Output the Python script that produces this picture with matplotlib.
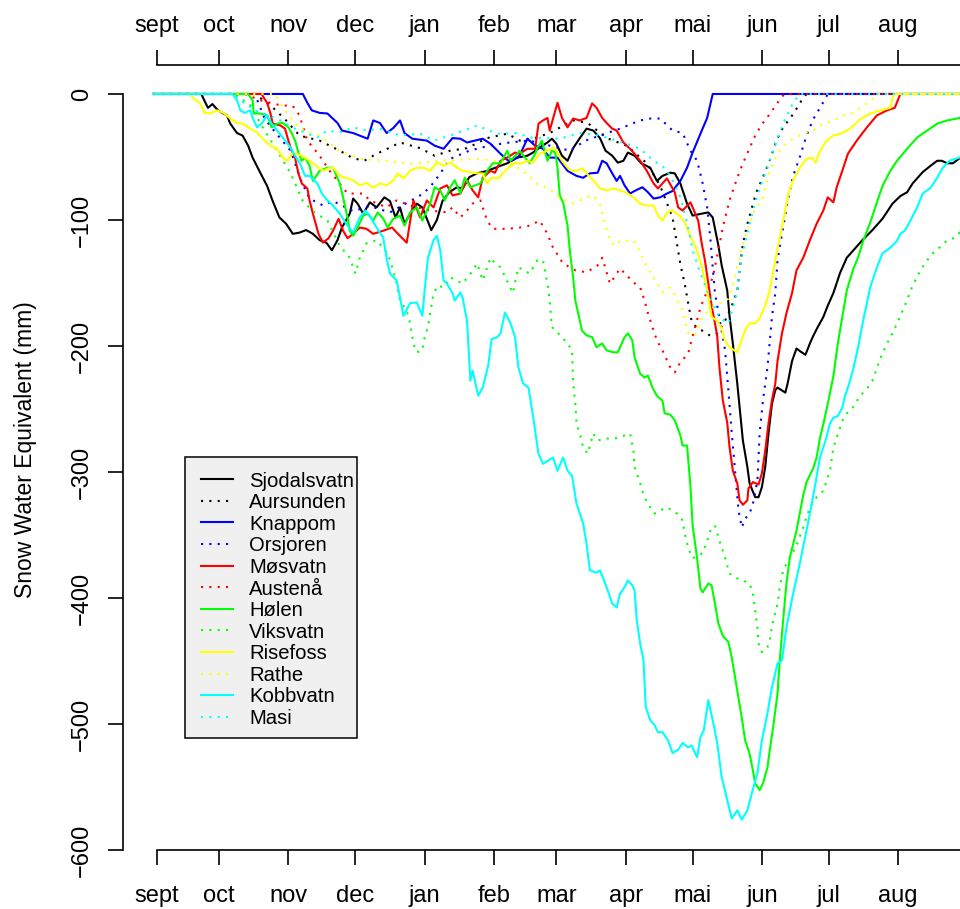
import matplotlib
matplotlib.use("Agg")
import matplotlib.pyplot as plt
from matplotlib.lines import Line2D
from matplotlib.patches import Rectangle

plt.rcParams['font.family'] = ['Liberation Sans', 'DejaVu Sans']

# ---------------- data (day since 1 Sept, SWE in mm) ----------------
SJODALSVATN = [(0.5,0),(22,0),(25,-11),(27,-8),(29.5,-13),(33.5,-17),(35,-23.5),(38,-31),(40.5,-33),(43,-41),(45,-50.5),(48,-61),(51.5,-73),(54,-85),(57,-98),(60,-103),(63,-111),(66,-110),(69,-108),(72,-111),(75,-116),(78,-118),(80.5,-124),(83,-116),(85,-106),(88.5,-95),(90,-83),(92,-87),(94.5,-95),(97.5,-86),(100.5,-90),(104,-82),(106.5,-85),(109,-98),(111,-90),(113,-103),(115.5,-95),(118.5,-87),(121,-90),(125,-108),(127.5,-100),(130,-85),(133,-78),(136.5,-74),(139,-75),(142,-66),(145.5,-63),(150,-61),(154.5,-58),(159,-55),(163.5,-50.5),(168,-49),(170.5,-46.5),(173.5,-42.5),(177,-38.5),(179,-35.5),(181,-39.5),(183.5,-49),(186,-53),(188.5,-43),(191.5,-35),(194.5,-27.5),(197.5,-29),(200.5,-35),(203,-45),(206,-49),(208.5,-54.5),(211,-53),(213,-46.5),(216,-49),(219,-55),(223,-58.5),(226,-69),(228.5,-65),(232,-62.5),(234,-63),(236.5,-71),(239.5,-87),(242,-96.5),(246,-95),(249,-94),(251,-98),(253.5,-120),(255,-136),(257.5,-156),(258.5,-176),(260,-198),(262,-230),(263.5,-257),(264.5,-275),(266.5,-296),(267.5,-309),(270,-320),(271.5,-320),(273,-312),(274.5,-296),(276,-269),(277.5,-246),(279,-235),(280,-233),(283.5,-237),(284.5,-230),(286.5,-212),(288.5,-202),(290,-204),(292.5,-207),(294.5,-198),(296,-192),(298,-185),(300.5,-177),(302.5,-168),(305,-158),(308,-142),(311,-130),(314,-124),(318,-116),(322.5,-108),(327,-99),(331.5,-87),(335,-81),(338,-78),(340.5,-71),(345,-62),(348.5,-57),(351.5,-53),(353.5,-53),(356,-55),(358.5,-55),(361.5,-51),(365,-50)]
AURSUNDEN = [(0.5,0),(46,0),(53,-9),(59.5,-20),(66,-33),(75,-37),(84,-45),(90,-51),(95,-53),(100.5,-47.5),(106.5,-42.5),(111,-38.5),(120,-43),(126.5,-49),(133.5,-45),(141,-43),(150,-35),(159,-31.5),(164.5,-37),(170.5,-35.5),(178,-31),(188.5,-21),(195,-23),(203.5,-35),(212.5,-41),(221.5,-55),(227.5,-73),(233,-98),(235,-119),(236.5,-135),(238.5,-151),(240,-166),(241.5,-180),(244,-186),(246.5,-188),(250,-192),(253,-190),(256.5,-180),(260,-166),(262,-156),(263,-140),(264.5,-119),(266.5,-103),(270.5,-78),(273.5,-66),(276.5,-53),(279.5,-37),(282.5,-26.5),(287,-16),(291.5,-3),(293,0),(365,0)]
KNAPPOM = [(0.5,0),(67.5,0),(69.5,-7),(71.5,-13),(75,-15),(78.5,-15.5),(83,-23),(85,-29),(90,-31),(96.5,-35.5),(99,-21),(102,-23),(105,-31),(108,-27),(111,-21),(113,-31),(116.5,-35.5),(123,-37),(126.5,-41),(130.5,-43.5),(134.5,-35),(138,-35.5),(141,-38.5),(144.5,-37),(148,-35.5),(151.5,-39.5),(156,-47.5),(159.5,-53),(162.5,-51.5),(164.5,-49),(168,-35.5),(171.5,-41),(175,-43.5),(178,-50.5),(181.5,-50.5),(186,-61),(190,-65),(193,-66.5),(196,-63),(199.5,-62.5),(201.5,-53),(203.5,-55),(206,-63),(208,-69),(209.5,-65),(211.5,-72.5),(214,-79),(216,-77),(219.5,-74),(222,-78),(224.5,-83),(227.5,-82),(230.5,-79),(233,-77),(236.5,-69),(239.5,-58.5),(242,-46.5),(245.5,-31.5),(248.5,-19),(251,0),(365,0)]
ORSJOREN = [(0.5,0),(46,0),(50.5,-20),(55,-30),(62,-45),(67,-70),(70.5,-83),(76.5,-88.5),(81,-85),(90,-93),(97.5,-89),(106.5,-94),(115.5,-85),(121.5,-79),(126,-70.5),(129,-63),(133.5,-51.5),(142,-45),(151,-41),(160,-38.5),(169,-37),(178,-41),(187,-45),(194,-37),(200.5,-33),(209.5,-27.5),(218.5,-21),(223,-19.5),(227.5,-19.5),(233,-29),(237.5,-31),(241,-45),(244,-53),(246.5,-71),(248.5,-90),(250,-116),(251,-138),(252,-158),(256.5,-203),(258,-235),(259.5,-269),(261,-299),(262.5,-330),(264,-344),(265.5,-337),(267.5,-333),(269,-325),(271,-307),(272,-269),(273.5,-243),(275.5,-217),(277.5,-177),(279,-158),(280,-132),(282.5,-106),(284.5,-85),(287,-65),(290,-50),(293,-33),(296,-20),(299,-11),(301,-5),(302.5,0),(365,0)]
MOSVATN = [(0.5,0),(49,0),(50,-3),(51.5,-7),(53,-15.5),(54,-23.5),(57.5,-25),(59.5,-27.5),(61,-37),(62.5,-45),(64,-50.5),(65.5,-63),(67,-71),(69.5,-75),(70.5,-84.5),(72,-95),(74.5,-111),(76.5,-118),(79,-114.5),(81,-108.5),(83.5,-99),(85.5,-108.5),(87.5,-114.5),(90,-111),(93,-106),(96,-107),(99,-111),(103.5,-108.5),(107.5,-106),(109.5,-110),(114,-118),(117,-84.5),(120,-98),(123,-84.5),(126,-90),(129,-75),(132,-72.5),(134.5,-80.5),(138,-79),(141,-68.5),(143.5,-76.5),(146,-82),(148,-66.5),(151.5,-61),(153.5,-62.5),(156,-53),(159,-50.5),(162.5,-46.5),(164.5,-47.5),(168,-43.5),(171.5,-43.5),(173,-23.5),(175,-21),(177,-19),(178,-29),(181.5,-7),(183.5,-19),(186,-26.5),(188.5,-19.5),(191.5,-21),(194.5,-19),(197,-7.5),(199,-11),(201.5,-19),(203.5,-23),(206,-27.5),(208,-29),(211,-38.5),(214,-43.5),(216,-47.5),(218.5,-53),(221.5,-61),(224.5,-71),(226.5,-75),(228.5,-71),(230.5,-67),(234,-78),(235.5,-90),(237.5,-92.5),(241,-86),(242,-90),(244.5,-100.5),(246,-118),(247.5,-132),(249,-150),(250.5,-168),(252,-182),(253,-192),(254,-217),(255.5,-243),(257.5,-261),(258.5,-280),(260,-299),(262,-309),(263,-322.5),(264.5,-326),(266.5,-322.5),(267,-313),(269,-308),(271.5,-310),(273,-301),(274.5,-283),(276,-261),(277.5,-243),(279,-230),(280,-212),(282,-190),(284,-174),(286.5,-158),(288.5,-140),(291.5,-130),(294.5,-116),(297.5,-103),(300.5,-92.5),(302.5,-82),(305,-86),(306.5,-74),(309,-61),(311.5,-47.5),(315.5,-37),(320,-26.5),(324.5,-17),(329,-13),(332.5,-11),(335,0),(365,0)]
AUSTENA = [(0.5,0),(41.5,0),(48.5,-5),(57.5,-9),(63,-9.5),(66,-17),(69.5,-37),(75,-49),(79.5,-61),(87.5,-79),(94.5,-79),(97.5,-84.5),(105,-90),(109.5,-84.5),(115.5,-88.5),(124.5,-92.5),(132,-94),(134.5,-90),(138,-98),(141,-92.5),(143.5,-87),(147,-84.5),(150,-100.5),(152.5,-107),(159,-107),(164.5,-106),(169,-104.5),(173.5,-100.5),(177,-111),(179.5,-122),(184,-134.5),(189.5,-140),(194.5,-141.5),(199.5,-136),(201.5,-130),(203,-138.5),(205,-150.5),(209.5,-138.5),(212.5,-144),(215.5,-149.5),(218.5,-153.5),(220.5,-164),(222,-174),(224,-185),(226,-195.5),(228.5,-203.5),(232,-217),(234,-221),(236.5,-213),(240,-206),(241.5,-195.5),(245.5,-169.5),(251,-145.5),(253.5,-124),(255.5,-106),(258.5,-84.5),(262,-66.5),(264.5,-55),(267,-45),(270,-33),(273,-24),(276.5,-16),(280,-7),(283,0),(365,0)]
HOLEN = [(0.5,0),(43,0),(45,-5),(45.5,-15.5),(48.5,-15.5),(51.5,-17),(53.5,-26.5),(56,-23.5),(58.5,-23),(61,-26.5),(62.5,-31),(64,-37),(65.5,-46.5),(67,-53),(68.5,-50.5),(70.5,-57),(72,-69),(75,-61),(78.5,-58.5),(81,-58.5),(84,-71),(85.5,-82),(87.5,-98),(88.5,-108.5),(90,-112.5),(92,-106),(94.5,-96.5),(96.5,-95),(99,-100.5),(101,-94),(103.5,-99),(105.5,-106),(108,-99),(111,-96.5),(113,-104.5),(115.5,-94),(118.5,-90),(121,-100.5),(123,-92.5),(124.5,-87),(126.5,-74),(129,-76.5),(131,-84.5),(133.5,-74),(135.5,-68.5),(138,-79),(140,-66.5),(142.5,-74),(147,-71),(150,-61),(152.5,-55),(156,-55),(159,-45),(160.5,-53),(163.5,-47.5),(164.5,-45),(169,-55),(171.5,-47.5),(172.5,-42.5),(174.5,-37),(177,-53),(179,-45),(180.5,-46.5),(181.5,-58.5),(182.5,-80.5),(184,-86),(186,-104.5),(187,-124),(188.5,-145.5),(189.5,-164),(190.5,-172),(192.5,-188),(194.5,-191.5),(197,-193),(199,-201),(201.5,-198),(203.5,-203.5),(206.5,-205),(208.5,-205),(211.5,-193),(213,-190),(215,-195.5),(216,-209),(218.5,-222),(220.5,-225),(222,-223.5),(224,-233),(226,-239.5),(228.5,-243.5),(229.5,-253.5),(232,-254.5),(234,-259),(236.5,-271),(237.5,-279),(239.5,-279),(241,-311),(242,-342.5),(244,-368.5),(245.5,-392.5),(246.5,-395.5),(249,-388.5),(250.5,-390),(252,-404.5),(253.5,-420),(255.5,-430),(258,-435),(259.5,-447),(261,-463),(262.5,-479),(264,-495),(265.5,-513),(267.5,-523.5),(269,-537),(270,-547),(272,-552.5),(273.5,-547),(275.5,-534.5),(276.5,-521),(278,-503),(280,-476),(281,-449.5),(282.5,-418),(284,-388.5),(285.5,-368),(288.5,-346.5),(291.5,-318.5),(293,-308),(296,-297),(297.5,-288.5),(299,-273),(300.5,-262),(302.5,-246),(305,-224),(307,-198),(309,-177),(311,-156),(314,-138.5),(316,-130),(318.5,-116),(321.5,-102),(324.5,-86),(327,-73),(330.5,-61),(333.5,-53),(338,-43.5),(342.5,-34.5),(347,-29),(351.5,-23.5),(356,-21),(361.5,-19),(365,-18)]
VIKSVATN = [(0.5,0),(37,0),(44,-9),(49,-25),(56,-45),(62,-63),(67.5,-85),(72,-93),(78.5,-100.5),(84,-120.5),(88.5,-130),(91,-142.5),(93,-130),(96,-118.5),(100.5,-116),(105.5,-126.5),(107.5,-137.5),(109.5,-150.5),(111,-164),(114,-172),(115.5,-182),(117,-198),(118.5,-205),(121,-203.5),(122,-193),(123.5,-185),(126,-158),(128,-152),(130.5,-153.5),(133.5,-145.5),(139,-150.5),(143,-141.5),(145.5,-134.5),(148,-148),(151.5,-130),(153.5,-134.5),(156,-137.5),(159.5,-150.5),(161.5,-158),(164,-137.5),(169,-142.5),(172.5,-132),(175,-132),(177,-150.5),(178,-164),(179,-185),(180.5,-187.5),(183.5,-193),(186,-198),(188,-203.5),(188.5,-229.5),(189.5,-246),(190,-261.5),(191.5,-269.5),(193,-280.5),(195,-285.5),(197.5,-269.5),(199.5,-275),(203,-273.5),(206,-273.5),(208.5,-273),(211.5,-271),(214,-269.5),(215.5,-283),(216,-296),(218.5,-309),(220.5,-320.5),(223,-328),(225,-333),(227.5,-330.5),(230.5,-328),(235,-333),(237.5,-338.5),(238.5,-349),(240,-360),(242,-368.5),(244.5,-366),(246.5,-364.5),(248.5,-354.5),(250,-346.5),(252,-342.5),(254,-354.5),(256.5,-368),(258.5,-380.5),(262,-384.5),(264.5,-386),(267.5,-388.5),(269,-396.5),(270,-410),(271,-423.5),(271.5,-436),(273,-443),(275.5,-439),(276.5,-434),(278,-418),(280,-404.5),(281,-391.5),(282.5,-378),(285.5,-368),(288.5,-358.5),(291.5,-344),(293.5,-333),(296,-323),(298,-319),(300.5,-315),(303.5,-299),(305,-280.5),(309,-259.5),(311,-253.5),(313.5,-249.5),(317,-239.5),(320,-234),(322.5,-227.5),(326,-210),(329,-198),(331.5,-190),(334,-180),(337,-168),(340.5,-152),(344,-140),(347,-132),(349.5,-126.5),(352.5,-122),(356,-116),(359.5,-114),(361.5,-110),(365,-108)]
RISEFOSS = [(0.5,0),(17,0),(18.5,-3.5),(21.5,-7.5),(23.5,-15),(26,-15.5),(29,-13),(32,-15),(35,-19.5),(38,-23),(40.5,-23.5),(44,-27.5),(47,-30.5),(49.5,-35.5),(53,-41),(56,-43.5),(58.5,-50.5),(60.5,-53),(63,-46.5),(67,-49),(70.5,-53),(74.5,-58.5),(76.5,-61),(79,-59),(81,-58.5),(84,-65),(87.5,-67),(90,-68.5),(93,-72.5),(96,-70.5),(99,-74.5),(102,-71),(105,-72.5),(108,-68.5),(110,-63),(112.5,-67),(115.5,-61),(118.5,-58.5),(121.5,-58.5),(124.5,-61),(127.5,-54.5),(130.5,-57),(133.5,-54.5),(136.5,-58.5),(139,-61),(145.5,-63),(148,-63),(150,-71),(152,-66.5),(155,-67),(157,-63),(159.5,-58.5),(162.5,-54.5),(164.5,-55.5),(168,-53),(170.5,-54.5),(173.5,-47.5),(177,-45),(179.5,-42.5),(181.5,-46.5),(183.5,-53),(186,-58.5),(188,-61),(190,-61),(192.5,-59),(194.5,-63),(197.5,-68.5),(200.5,-75),(203.5,-76.5),(206.5,-75),(209.5,-76.5),(212.5,-78.5),(215.5,-82),(218.5,-87),(221.5,-88.5),(224.5,-88.5),(226.5,-96.5),(228.5,-100.5),(230.5,-94),(233,-92.5),(236.5,-97),(238.5,-102),(241,-113),(243.5,-122),(246,-136),(248.5,-156),(250.5,-177),(253,-180),(255,-186),(256.5,-196),(258.5,-201),(262,-205),(263.5,-197.5),(265.5,-187.5),(267.5,-182),(270,-182),(272,-178),(274.5,-168),(276.5,-156),(279,-132),(281,-114),(283.5,-92),(285,-78),(287,-68.5),(290,-58.5),(293,-51.5),(295.5,-50.5),(297,-54.5),(299,-45),(302,-37),(305,-33),(309,-31),(312.5,-27.5),(317,-20),(321.5,-15.5),(326,-13),(330.5,-11),(332,0),(365,0)]
RATHE = [(0.5,0),(55,0),(59.5,-13),(66,-27.5),(75,-33),(84,-45),(93,-51.5),(105,-53),(115.5,-55.5),(129,-53),(147,-51.5),(160,-54.5),(168,-63.5),(172.5,-71.5),(178,-75.5),(182.5,-82),(188.5,-87),(194.5,-82),(197.5,-80.5),(200.5,-87),(202,-98),(205,-116.5),(207.5,-120.5),(209.5,-116.5),(215.5,-116.5),(217.5,-122),(221.5,-137.5),(224,-144),(228.5,-157.5),(232,-153.5),(235,-162.5),(237.5,-172),(240,-190),(243,-191.5),(246.5,-176),(252,-168),(258,-162.5),(260,-152),(264,-122),(269,-95),(273.5,-82),(276.5,-61),(280,-47.5),(282.5,-41),(287,-35.5),(291.5,-31.5),(296,-29),(300.5,-23.5),(305,-21),(309.5,-17),(314,-15),(318.5,-9.5),(321.5,-5.5),(325,0),(365,0)]
KOBBVATN = [(0.5,0),(36,0),(38,-5),(39.5,-13),(41.5,-15),(44,-13),(45,-19),(47,-26.5),(49,-23.5),(51.5,-17),(53.5,-23.5),(56,-29),(58.5,-34.5),(62,-42.5),(64,-49),(66,-54.5),(68.5,-65),(70.5,-65),(74,-71),(76,-79),(78.5,-84.5),(81,-88.5),(84,-95),(87.5,-104.5),(90,-110),(93,-98),(95.5,-92.5),(97.5,-97),(100.5,-106),(103.5,-114),(105,-130.5),(106.5,-142.5),(109.5,-148),(111,-161.5),(112.5,-176),(115.5,-166),(118.5,-165.5),(121,-176),(122,-156),(123.5,-130),(126,-116),(127.5,-112.5),(129,-124),(130.5,-148),(132,-150.5),(134.5,-158),(135.5,-164),(138,-157.5),(139,-161.5),(141,-180),(142.5,-227.5),(143.5,-219.5),(146,-239.5),(148,-233),(150.5,-215.5),(152,-194.5),(154.5,-193),(156,-190),(158,-173.5),(160.5,-182),(162.5,-193),(164,-217),(166,-229.5),(168.5,-233),(170.5,-255),(173,-285.5),(175,-293.5),(179.5,-288.5),(181.5,-299),(184,-288.5),(186,-299),(188,-303),(190,-325),(193,-341),(194.5,-357),(196,-378),(199,-380),(200.5,-378),(202,-384.5),(204,-394),(206,-404.5),(208,-407.5),(209.5,-396.5),(211.5,-391.5),(213,-386),(215,-390),(216,-394),(217,-418),(218.5,-436),(220,-449.5),(221,-486.5),(223,-497),(225,-501),(226.5,-506.5),(228.5,-506.5),(231,-513),(233,-523),(235.5,-520.5),(237.5,-515),(240,-518.5),(241.5,-517),(244,-526.5),(245.5,-510.5),(247,-505),(249,-481),(251,-497),(253,-515),(255,-542),(257.5,-560.5),(259.5,-575),(262,-568.5),(264,-576),(266.5,-568.5),(268.5,-555),(271,-539),(273,-513),(275.5,-491.5),(277.5,-471),(280,-452),(282,-449.5),(284,-423.5),(287,-396.5),(290,-372.5),(292.5,-350.5),(294.5,-333),(297,-309),(299,-288.5),(301.5,-275),(303.5,-261.5),(305,-257),(307,-255.5),(309,-249),(310,-241),(312.5,-227.5),(314,-217.5),(316,-201.5),(318.5,-178.5),(321.5,-153.5),(324.5,-137.5),(327,-126.5),(330.5,-122),(333.5,-116.5),(335,-111),(337,-108.5),(339.5,-100.5),(342.5,-90),(345,-79),(348.5,-74.5),(351.5,-66.5),(354,-58.5),(357,-53),(361.5,-50.5),(365,-50)]
MASI = [(0.5,0),(36,0),(39.5,-5),(46,-13),(56,-19.5),(64,-27.5),(74,-34.5),(78.5,-29),(84,-30.5),(90,-26.5),(96,-29),(102,-27.5),(111,-33),(120,-31.5),(126,-37),(133.5,-33),(145.5,-25),(154.5,-31.5),(163.5,-31),(169,-34.5),(182.5,-35.5),(191.5,-31),(200.5,-33),(208,-37),(212.5,-39.5),(218.5,-43.5),(224.5,-53),(228.5,-57),(232,-65),(236.5,-82),(239.5,-102),(242,-124),(245.5,-142.5),(248.5,-156),(251,-166),(254,-177.5),(258,-182),(260,-170),(262,-156),(263,-138),(266.5,-111),(269,-92.5),(272,-75),(275.5,-58.5),(278,-45),(282.5,-23.5),(287,-7),(290,0),(365,0)]

STATIONS = ["Sjodalsvatn", "Aursunden", "Knappom", "Orsjoren", "Møsvatn", "Austenå",
            "Hølen", "Viksvatn", "Risefoss", "Rathe", "Kobbvatn", "Masi"]
SERIES = [SJODALSVATN, AURSUNDEN, KNAPPOM, ORSJOREN, MOSVATN, AUSTENA,
          HOLEN, VIKSVATN, RISEFOSS, RATHE, KOBBVATN, MASI]
COLORS = ["#000000", "#000000", "#0000FF", "#0000FF", "#FF0000", "#FF0000",
          "#00FF00", "#00FF00", "#FFFF00", "#FFFF00", "#00FFFF", "#00FFFF"]
DOTTED = [False, True] * 6

MONTH_LABELS = ["sept", "oct", "nov", "dec", "jan", "feb", "mar", "apr", "mai", "jun", "jul", "aug"]
MONTH_DAYS = [2, 30, 61, 91, 122, 153, 181, 212, 242, 273, 303, 334]
Y_TICKS = [0, -100, -200, -300, -400, -500, -600]

# ---------------- figure ----------------
W, H = 960, 909
fig = plt.figure(figsize=(W / 100, H / 100), dpi=100)
L, R, T, B = 123.5, 960, 65, 850
ax = fig.add_axes([L / W, 1 - B / H, (R - L) / W, (B - T) / H])
ax.set_xlim(-12.8, 361.7)
ax.set_ylim(-600, 23)

DOT = (0, (1, 3))
for data, col, dot in zip(SERIES, COLORS, DOTTED):
    xs = [p[0] for p in data]
    ys = [p[1] for p in data]
    ax.plot(xs, ys, color=col, lw=1.5, linestyle=DOT if dot else '-',
            solid_joinstyle='round', dash_capstyle='butt', clip_on=True)

AX_LW = 1.2
ax.spines['right'].set_visible(False)
ax.spines['top'].set_visible(False)
for s in ['left', 'bottom']:
    ax.spines[s].set_linewidth(AX_LW)
ax.spines['left'].set_bounds(-600, 0)
ax.spines['bottom'].set_bounds(MONTH_DAYS[0], 361.7)

# bottom axis
ax.set_xticks(MONTH_DAYS)
ax.set_xticklabels(MONTH_LABELS)
ax.tick_params(axis='x', top=False, labeltop=False, bottom=True, labelbottom=True,
               direction='out', length=10.5, width=AX_LW, labelsize=17, pad=15)

# top axis (same month ticks)
sec = ax.secondary_xaxis('top')
sec.set_xticks(MONTH_DAYS)
sec.set_xticklabels(MONTH_LABELS)
sec.tick_params(axis='x', direction='out', length=10.5, width=AX_LW, labelsize=17, pad=9.5)
sec.spines['top'].set_linewidth(AX_LW)
sec.spines['top'].set_bounds(MONTH_DAYS[0], 361.7)

ax.set_yticks(Y_TICKS)
ax.set_yticklabels([str(v).replace('-', '\u2212') for v in Y_TICKS], rotation=90, va='center')
ax.tick_params(axis='y', direction='out', length=10.5, width=AX_LW, labelsize=17, pad=11.5)

fig.text(26 / W, 1 - 450 / H, "Snow Water Equivalent (mm)", rotation=90,
         ha='center', va='center', fontsize=16.5)

# ---------------- legend (drawn in pixel layout) ----------------
def fx(x):
    return x / W

def fy(y):
    return 1 - y / H

box = Rectangle((fx(185), fy(738.3)), fx(356.7) - fx(185), fy(457.3) - fy(738.3),
                transform=fig.transFigure, facecolor='#f0f0f0', edgecolor='black', lw=1.1, zorder=5)
fig.add_artist(box)
row0, drow = 479.3, 21.58
for i, (name, col, dot) in enumerate(zip(STATIONS, COLORS, DOTTED)):
    yc = row0 + i * drow
    ln = Line2D([fx(201), fx(233.3)], [fy(yc), fy(yc)], transform=fig.transFigure,
                color=col, lw=1.5, linestyle=DOT if dot else '-', dash_capstyle='butt', zorder=6)
    fig.add_artist(ln)
    fig.text(fx(249), fy(yc + 7.4), name, fontsize=14.6, ha='left', va='baseline', zorder=6)

fig.savefig("out.png", dpi=100)
